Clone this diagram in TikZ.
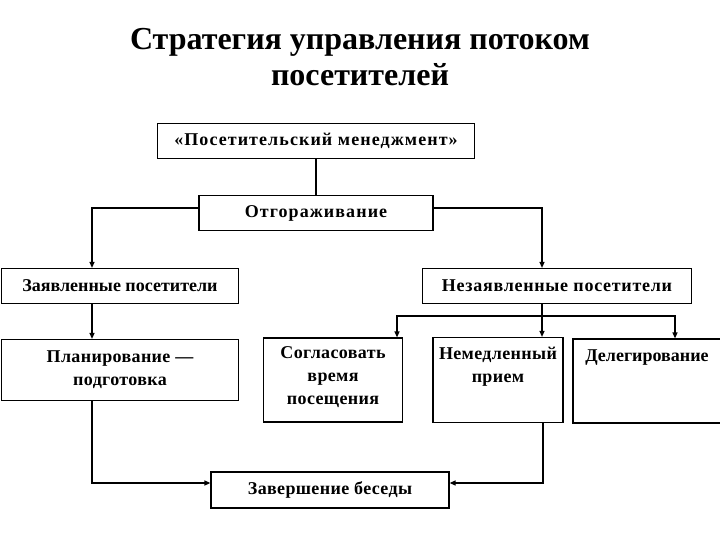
\documentclass[tikz,border=0pt]{standalone}
\usepackage{fontspec}
\setmainfont{Liberation Serif}
\newfontfamily\fa{Liberation Serif}
\newfontfamily\fb[LetterSpace=2]{Liberation Serif}
\newfontfamily\fc[LetterSpace=4]{Liberation Serif}
\newfontfamily\fd[LetterSpace=6]{Liberation Serif}
\usetikzlibrary{arrows.meta}
\begin{document}
\begin{tikzpicture}[x=1pt,y=-1pt,
  txt/.style={font=\bfseries\fontsize{18}{23}\selectfont},
  box/.style={draw,line width=1.2pt,inner sep=0pt,txt},
  conn/.style={line width=1.2pt},
  arr/.style={conn,-{Triangle[length=6pt,width=5pt]}}]
\useasboundingbox (0,0) rectangle (720,540);
\node[font=\bfseries\fontsize{32}{36}\selectfont,align=center] (title) at (360,57) {Стратегия управления потоком\\посетителей};
\node[box,minimum width=317pt,minimum height=35pt] (pm) at (316,141) {\fd «Посетительский менеджмент»};
\node[box,minimum width=234pt,minimum height=35pt] (ot) at (316,213) {\fd Отгораживание};
\node[box,minimum width=237pt,minimum height=35pt] (zp) at (120,286) {\fa Заявленные посетители};
\node[box,minimum width=269pt,minimum height=35pt] (np) at (557,286) {\fc Незаявленные посетители};
\node[box,minimum width=237pt,minimum height=61pt,align=center] (pl) at (120,370) {\fb Планирование —\\\fb подготовка};
\node[box,minimum width=139pt,minimum height=84pt] (sv) at (333,380) {};
\node[align=center,txt,anchor=north,inner sep=0pt] (svt) at ([yshift=-9pt]sv.north) {\fb Согласовать\\\fb время\\\fb посещения};
\node[box,minimum width=130pt,minimum height=85pt] (nm) at (498,380) {};
\node[align=center,txt,anchor=north,inner sep=0pt] (nmt) at ([yshift=-10pt]nm.north) {\fb Немедленный\\\fb прием};
\node[box,minimum width=148pt,minimum height=84pt] (dl) at (647,381) {};
\node[txt,anchor=north,inner sep=0pt] (dlt) at ([yshift=-11pt]dl.north) {\fa Делегирование};
\node[box,minimum width=238pt,minimum height=36pt] (zb) at (330,490) {\fb Завершение беседы};
\coordinate (tl) at (92,208);
\coordinate (tr) at (542,208);
\coordinate (sp) at (542,316);
\draw[conn] (pm.south) -- (ot.north);
\draw[arr] (ot.west |- tl) -- (tl) -- (tl |- zp.north);
\draw[arr] (ot.east |- tr) -- (tr) -- (tr |- np.north);
\draw[arr] (92,0 |- zp.south) -- (92,0 |- pl.north);
\draw[conn] (np.south -| sp) -- (sp);
\draw[arr] (sp) -- (397,316) -- (397,0 |- sv.north);
\draw[arr] (sp) -- (675,316) -- (675,0 |- dl.north);
\draw[arr] (sp) -- (sp |- nm.north);
\draw[arr] (92,0 |- pl.south) -- (92,483) -- (zb.west |- 0,483);
\draw[arr] (543,0 |- nm.south) -- (543,483) -- (zb.east |- 0,483);
\end{tikzpicture}
\end{document}
